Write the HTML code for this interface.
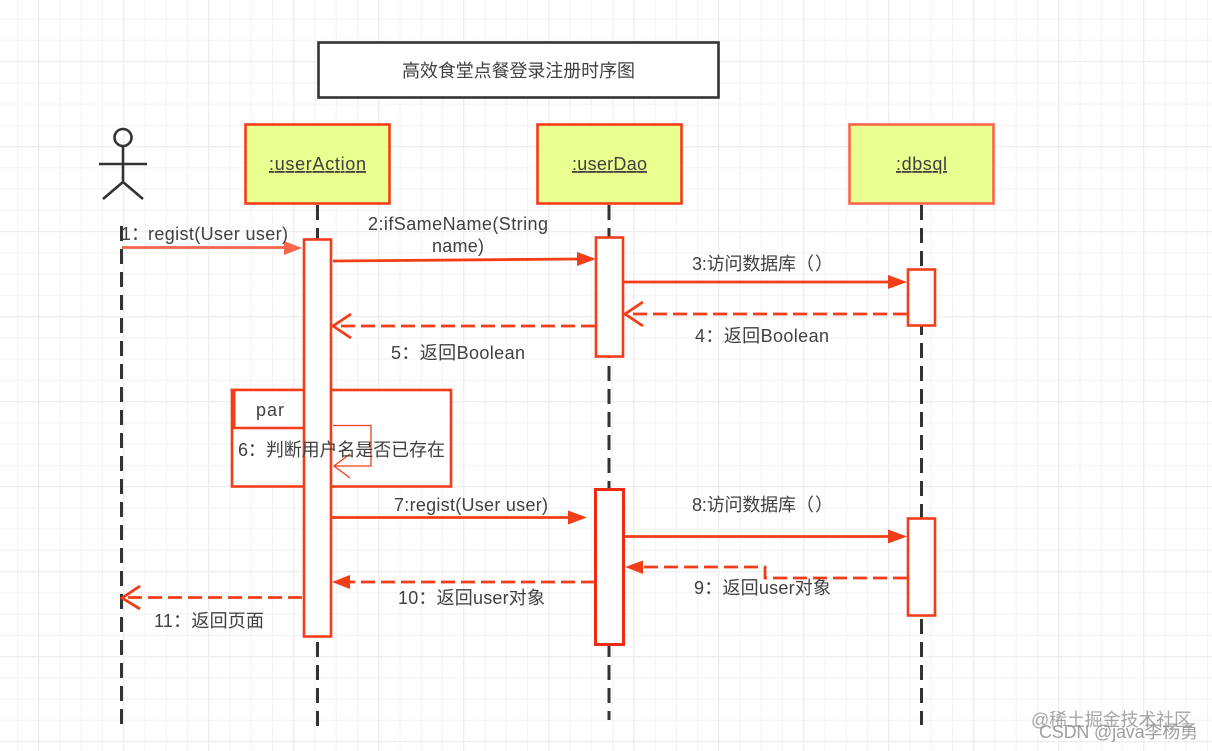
<!DOCTYPE html>
<html><head><meta charset="utf-8">
<style>
html,body{margin:0;padding:0;background:#fff;width:1212px;height:751px;overflow:hidden}
svg{display:block;filter:blur(.35px)}
text{font-family:"Liberation Sans","Noto Sans CJK SC",sans-serif;font-size:18px;fill:#404040}
</style></head><body>
<svg width="1212" height="751" viewBox="0 0 1212 751" xmlns="http://www.w3.org/2000/svg">
<defs>
<pattern id="minor" x="17" y="18.5" width="21.25" height="21.25" patternUnits="userSpaceOnUse">
<path d="M0.5 0V21.25M0 0.5H21.25" stroke="#f3f3f3" stroke-width="1.2" fill="none"/>
</pattern>
<pattern id="major" x="38" y="61" width="85" height="85" patternUnits="userSpaceOnUse">
<path d="M0.5 0V85M0 0.5H85" stroke="#eeeeee" stroke-width="1.5" fill="none"/>
</pattern>
</defs>
<rect width="1212" height="751" fill="#fff"/>
<rect width="1212" height="751" fill="url(#minor)"/>
<rect width="1212" height="751" fill="url(#major)"/>

<!-- title -->
<rect x="318.5" y="42.5" width="400" height="55" fill="#fff" stroke="#333" stroke-width="2.6"/>
<text x="402" y="77" textLength="233">高效食堂点餐登录注册时序图</text>

<!-- lifelines -->
<g stroke="#333" stroke-width="3" fill="none" stroke-dasharray="15 8">
<path d="M121.500 226V728"/>
<path d="M317.500 205V726"/>
<path d="M609 205V720"/>
<path d="M921.500 205V725"/>
</g>

<!-- actor -->
<g stroke="#333" stroke-width="2.600" fill="none">
<circle cx="123" cy="137.500" r="8.500"/>
<path d="M123 146V182M99 164H147M103 199L123 182L143 199"/>
</g>

<!-- heads -->
<g stroke-width="2.600">
<rect x="245.500" y="124.500" width="144" height="79" fill="#e9ff8f" stroke="#f23d18"/>
<rect x="537.500" y="124.500" width="144" height="79" fill="#e9ff8f" stroke="#f23d18"/>
<rect x="849.500" y="124.500" width="144" height="79" fill="#e9ff8f" stroke="#f8664c"/>
</g>
<text x="269" y="170" textLength="97" text-decoration="underline">:userAction</text>
<text x="572" y="170" textLength="75" text-decoration="underline">:userDao</text>
<text x="896" y="170" textLength="51" text-decoration="underline">:dbsql</text>

<!-- par frame -->
<rect x="232" y="390" width="219" height="96.500" fill="#fff" stroke="#f23d18" stroke-width="2.600"/>
<path d="M232 390H305V428H234Z" fill="#fff" stroke="#f23d18" stroke-width="2.600"/>
<path d="M233.500 390V428" stroke="#f23d18" stroke-width="4"/>
<text x="256" y="416" textLength="28">par</text>

<!-- activations -->
<g fill="#fff" stroke="#f23d18" stroke-width="2.600">
<rect x="304" y="239.500" width="27" height="397"/>
<rect x="596" y="237.500" width="27" height="119"/>
<rect x="908" y="269.500" width="27" height="56"/>
<rect x="908" y="518.500" width="27" height="97"/>
</g>
<rect x="595.500" y="489.500" width="28" height="155" fill="#fff" stroke="#ee2a12" stroke-width="3"/>

<!-- self message -->
<path d="M333 425.500H371V466H334" fill="none" stroke="#f23d18" stroke-width="1.300"/>
<path d="M350 454L334 466L350 478" fill="none" stroke="#f23d18" stroke-width="1.300"/>
<text x="238" y="456" textLength="207">6：判断用户名是否已存在</text>

<!-- solid arrows -->
<g stroke="#f23d18" stroke-width="2.800" fill="none">
<path d="M122 247.500H286" stroke="#f8664c"/>
<path d="M333 261L578 259"/>
<path d="M624 282H890"/>
<path d="M331 517.500H570"/>
<path d="M624 536.500H890"/>
</g>
<g fill="#f23d18">
<path d="M302 248L284 241V255Z" fill="#f8664c"/>
<path d="M596 259L577 252V266Z"/>
<path d="M907 282L888 275V289Z"/>
<path d="M587 517.500L568 510.500V524.500Z"/>
<path d="M907 536.500L888 529.500V543.500Z"/>
<path d="M625 567L643 560.500V574Z"/>
<path d="M332 582L350 575V589Z"/>
</g>

<!-- dashed arrows -->
<g stroke="#f23d18" stroke-width="2.800" fill="none">
<path d="M907 314H626" stroke-dasharray="14 6"/>
<path d="M595 326H334" stroke-dasharray="14 6"/>
<path d="M907 578H765V567H642" stroke-dasharray="14 6"/>
<path d="M595 582H350" stroke-dasharray="14 6"/>
<path d="M302 597.500H124" stroke-dasharray="14 6"/>
<path d="M643 302L625 314L643 326"/>
<path d="M351 314L333 326L351 338"/>
<path d="M140 586L122 598L140 609"/>
</g>

<!-- labels -->
<text x="121" y="240">1：</text>
<text x="148" y="240" textLength="140">regist(User user)</text>
<text x="368" y="230" textLength="180">2:ifSameName(String</text>
<text x="432" y="252" textLength="52">name)</text>
<text x="692" y="270" textLength="104">3:访问数据库</text>
<text x="796" y="270">（</text>
<text x="815" y="270">）</text>
<text x="695" y="342" textLength="134">4：返回Boolean</text>
<text x="391" y="359" textLength="134">5：返回Boolean</text>
<text x="394" y="511" textLength="154">7:regist(User user)</text>
<text x="692" y="511" textLength="104">8:访问数据库</text>
<text x="796" y="511">（</text>
<text x="815" y="511">）</text>
<text x="694" y="594" textLength="137">9：返回user对象</text>
<text x="398" y="604" textLength="147">10：返回user对象</text>
<text x="154" y="627" textLength="110">11：返回页面</text>

<!-- watermarks -->
<text x="1031" y="726" textLength="161" style="fill:#8f8f8f" opacity=".8">@稀土掘金技术社区</text>
<text x="1039" y="738" textLength="159" style="fill:#8f8f8f" opacity=".85">CSDN @java李杨勇</text>
</svg>
</body></html>
